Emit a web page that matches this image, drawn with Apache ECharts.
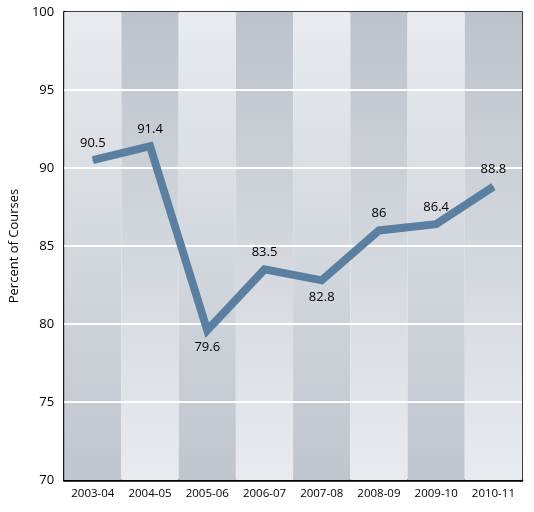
<!DOCTYPE html><html><head><meta charset="utf-8"><script src="https://cdn.jsdelivr.net/npm/echarts@6/dist/echarts.min.js"></script>
<style>html,body{margin:0;padding:0;background:#fff}#c{width:534px;height:512px}</style></head><body><div id="c"></div><script>
const categories=['2003-04','2004-05','2005-06','2006-07','2007-08','2008-09','2009-10','2010-11'];
const values=[90.5,91.4,79.6,83.5,82.8,86,86.4,88.8];
const labelBelow=[false,false,true,false,true,false,false,false];
const chart=echarts.init(document.getElementById('c'));
const light={type:'linear',x:0,y:0,x2:0,y2:1,colorStops:[{offset:0,color:'#e8ebef'},{offset:1,color:'#c0c6ce'}]};
const dark={type:'linear',x:0,y:0,x2:0,y2:1,colorStops:[{offset:0,color:'#bdc3cb'},{offset:1,color:'#e8ebef'}]};
const lbl={show:true,color:'#000',fontFamily:'Open Sans',fontSize:13,distance:10};
chart.setOption({
 animation:false,
 grid:{left:60,right:12,top:12,bottom:32,show:true,borderColor:'#000',borderWidth:1.5},
 xAxis:{type:'category',data:categories,boundaryGap:true,axisTick:{show:false},
  axisLine:{lineStyle:{color:'#000',width:2.5}},axisLabel:{interval:0,color:'#000',fontFamily:'Open Sans',fontSize:11.5,margin:8}},
 yAxis:{type:'value',min:70,max:100,interval:5,name:'Percent of Courses',nameLocation:'middle',nameGap:36,
  nameTextStyle:{color:'#000',fontFamily:'Open Sans',fontSize:13},
  axisLine:{show:true,lineStyle:{color:'#000',width:2.5}},axisTick:{show:false},
  axisLabel:{color:'#000',fontFamily:'Open Sans',fontSize:13,margin:10},
  splitLine:{show:false}},
 series:[
  {type:'bar',barWidth:'100%',silent:true,z:0,data:categories.map((c,i)=>({value:100,itemStyle:{color:i%2?dark:light}}))},
  {type:'line',data:[],z:2,markLine:{silent:true,symbol:'none',label:{show:false},lineStyle:{color:'#fff',width:2,type:'solid'},data:[75,80,85,90,95].map(v=>({yAxis:v}))}},
  {type:'line',data:values.map((v,i)=>({value:v,label:Object.assign({},lbl,{position:labelBelow[i]?'bottom':'top'})})),
   symbol:'circle',symbolSize:1,showSymbol:true,z:5,itemStyle:{color:'#5a7fa0'},
   lineStyle:{color:'#5a7fa0',width:8,join:'miter'},label:lbl,labelLayout:{hideOverlap:false}}
 ]
});
</script></body></html>
